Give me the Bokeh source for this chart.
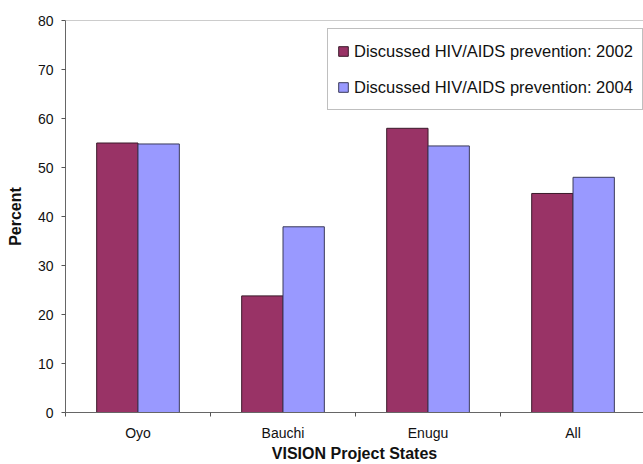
from bokeh.plotting import figure
from bokeh.models import (Range1d, FixedTicker, ColumnDataSource, Legend, LegendItem, Span)
from bokeh.transform import dodge
from bokeh.embed import file_html
from bokeh.resources import INLINE

categories = ["Oyo", "Bauchi", "Enugu", "All"]
series_2002 = [55.0, 23.8, 58.0, 44.7]
series_2004 = [54.8, 37.9, 54.4, 48.0]
label_2002 = "Discussed HIV/AIDS prevention: 2002"
label_2004 = "Discussed HIV/AIDS prevention: 2004"
y_ticks = [0, 10, 20, 30, 40, 50, 60, 70, 80]

centers = [i + 0.5 for i in range(len(categories))]
src = ColumnDataSource(dict(x=centers, v02=series_2002, v04=series_2004))

FONT = "Liberation Sans"
BW = 0.285

p = figure(width=643, height=464, output_backend="svg", toolbar_location=None,
           x_range=Range1d(0, 3.986), y_range=Range1d(0, 80),
           min_border_left=65, min_border_right=0, min_border_top=20, min_border_bottom=52,
           x_axis_label="VISION Project States", y_axis_label="Percent")
p.outline_line_color = None
p.grid.grid_line_color = None
p.background_fill_color = "white"
p.border_fill_color = "white"

r02 = p.vbar(x=dodge("x", -BW / 2), top="v02", width=BW, source=src,
             fill_color="#993366", line_color="#3a1a2a", line_width=1)
r04 = p.vbar(x=dodge("x", BW / 2), top="v04", width=BW, source=src,
             fill_color="#9999FF", line_color="#3a3a5a", line_width=1)

p.add_layout(Span(location=80, dimension="width", line_color="#9a9a9a", line_width=1))

xa = p.xaxis[0]
xa.ticker = FixedTicker(ticks=centers, minor_ticks=[0, 1, 2, 3, 4])
xa.major_label_overrides = {c: n for c, n in zip(centers, categories)}
xa.major_tick_out = 0
xa.major_tick_in = 0
xa.minor_tick_out = 4
xa.minor_tick_in = 0
xa.minor_tick_line_color = "#555555"
xa.axis_line_color = "#666666"
xa.major_label_standoff = 8
xa.major_label_text_font = FONT
xa.major_label_text_font_size = "14px"
xa.major_label_text_color = "#111111"
xa.axis_label_text_font = FONT
xa.axis_label_text_font_style = "bold"
xa.axis_label_text_font_size = "16px"
xa.axis_label_text_color = "#111111"
xa.axis_label_standoff = 1

ya = p.yaxis[0]
ya.ticker = FixedTicker(ticks=y_ticks)
ya.major_tick_out = 4
ya.major_tick_in = 0
ya.minor_tick_line_color = None
ya.major_tick_line_color = "#555555"
ya.axis_line_color = "#666666"
ya.major_label_standoff = 8
ya.major_label_text_font = FONT
ya.major_label_text_font_size = "14px"
ya.major_label_text_color = "#111111"
ya.axis_label_text_font = FONT
ya.axis_label_text_font_style = "bold"
ya.axis_label_text_font_size = "16px"
ya.axis_label_text_color = "#111111"
ya.axis_label_standoff = 11

legend = Legend(items=[LegendItem(label=label_2002, renderers=[r02]),
                       LegendItem(label=label_2004, renderers=[r04])],
                location=(262, 302), orientation="vertical",
                glyph_width=12, glyph_height=12, label_height=26,
                label_standoff=5, padding=9, spacing=10, margin=0,
                label_text_font=FONT, label_text_font_size="16.5px",
                label_text_color="#111111",
                border_line_color="#808080", border_line_width=1,
                background_fill_color="white", background_fill_alpha=1.0)
p.add_layout(legend)

open("out.html", "w").write(file_html(p, INLINE))
